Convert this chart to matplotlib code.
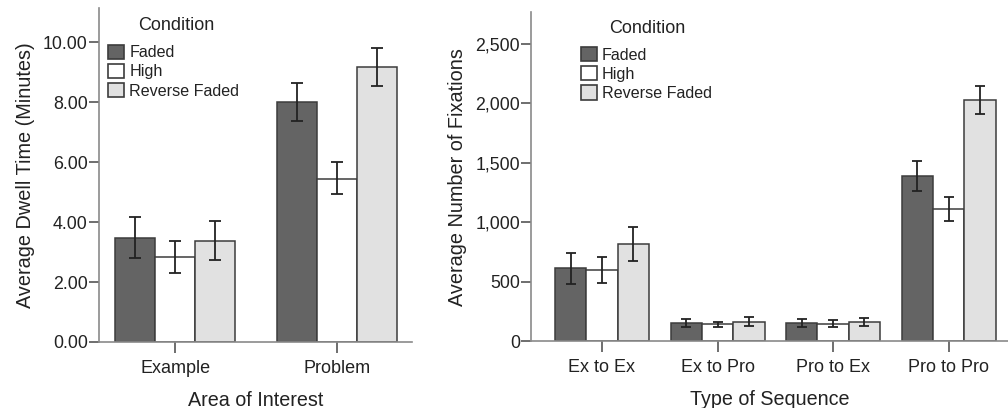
import numpy as np
import matplotlib; matplotlib.use('Agg')
import matplotlib.pyplot as plt
from matplotlib.ticker import FuncFormatter

plt.rcParams.update({'font.family': 'Liberation Sans', 'text.color': '#222222',
                     'axes.labelcolor': '#222222', 'xtick.color': '#555555', 'ytick.color': '#555555',
                     'xtick.labelcolor': '#222222', 'ytick.labelcolor': '#222222'})

conditions = ['Faded', 'High', 'Reverse Faded']
colors = ['#646464', '#ffffff', '#e1e1e1']

# left panel: dwell time (minutes)
areas = ['Example', 'Problem']
dwell_mean = {'Faded': [3.48, 8.00], 'High': [2.82, 5.45], 'Reverse Faded': [3.38, 9.16]}
dwell_lo = {'Faded': [2.81, 7.37], 'High': [2.30, 4.93], 'Reverse Faded': [2.75, 8.53]}
dwell_hi = {'Faded': [4.16, 8.65], 'High': [3.36, 6.00], 'Reverse Faded': [4.03, 9.79]}

# right panel: fixations
seqs = ['Ex to Ex', 'Ex to Pro', 'Pro to Ex', 'Pro to Pro']
fix_mean = {'Faded': [613, 154, 154, 1389], 'High': [600, 143, 146, 1112], 'Reverse Faded': [818, 165, 163, 2030]}
fix_lo = {'Faded': [484, 120, 120, 1265], 'High': [490, 118, 118, 1011], 'Reverse Faded': [677, 131, 131, 1913]}
fix_hi = {'Faded': [739, 185, 185, 1515], 'High': [708, 165, 175, 1210], 'Reverse Faded': [960, 202, 196, 2145]}

fig = plt.figure(figsize=(10.08, 4.08), dpi=100)
fig.patch.set_facecolor('white')

def style(ax):
    for s in ['top', 'right']:
        ax.spines[s].set_visible(False)
    for s in ['left', 'bottom']:
        ax.spines[s].set_color('#8a8a8a'); ax.spines[s].set_linewidth(1.2)
    ax.tick_params(axis='y', length=7, width=1.2, labelsize=12.8, pad=1)
    ax.tick_params(axis='x', length=8, width=1.2, labelsize=13, pad=5)

def draw(ax, cats, mean, lo, hi, width, capsize, leg_xy, title_xy):
    x = np.arange(len(cats))
    for i, c in enumerate(conditions):
        m = np.array(mean[c]); l = np.array(lo[c]); h = np.array(hi[c])
        xs = x + (i - 1) * width
        ax.bar(xs, m, width, color=colors[i], edgecolor='#3c3c3c', linewidth=1.1, label=c, zorder=2)
        ax.errorbar(xs, m, yerr=[m - l, h - m], fmt='none', ecolor='#222222', elinewidth=1.3,
                    capsize=capsize, capthick=1.3, zorder=3)
    ax.set_xticks(x); ax.set_xticklabels(cats)
    leg = ax.legend(frameon=False, fontsize=11.6, handlelength=1.0, handleheight=1.0,
                    handletextpad=0.3, labelspacing=0.21, borderpad=0, borderaxespad=0,
                    loc='upper left', bbox_to_anchor=leg_xy)
    for p in leg.get_patches():
        p.set_edgecolor('#3c3c3c'); p.set_linewidth(1.2)
    ax.text(title_xy[0], title_xy[1], 'Condition', transform=ax.transAxes, fontsize=13,
            ha='center', va='center')

ax1 = fig.add_axes([0.0982, 0.1618, 0.3105, 0.818])
draw(ax1, areas, dwell_mean, dwell_lo, dwell_hi, 0.247, 4.5, (0.030, 0.891), (0.246, 0.949))
ax1.set_xlim(-0.47, 1.46); ax1.set_ylim(0, 11.13)
ax1.set_yticks(np.arange(0, 10.1, 2))
ax1.yaxis.set_major_formatter(FuncFormatter(lambda v, p: f'{v:.2f}'))
ax1.set_xlabel('Area of Interest', fontsize=14.2, labelpad=10)
ax1.set_ylabel('Average Dwell Time (Minutes)', fontsize=14.3, labelpad=6)
style(ax1)

ax2 = fig.add_axes([0.5268, 0.1635, 0.4732, 0.8071])
draw(ax2, seqs, fix_mean, fix_lo, fix_hi, 0.271, 3.5, (0.104, 0.894), (0.244, 0.951))
ax2.set_xlim(-0.614, 3.513); ax2.set_ylim(0, 2766)
ax2.set_yticks(np.arange(0, 2501, 500))
ax2.yaxis.set_major_formatter(FuncFormatter(lambda v, p: f'{int(v):,}'))
ax2.set_xlabel('Type of Sequence', fontsize=14.2, labelpad=10)
ax2.set_ylabel('Average Number of Fixations', fontsize=14.3, labelpad=6)
style(ax2)

fig.savefig('out.png', dpi=100, facecolor='white')
